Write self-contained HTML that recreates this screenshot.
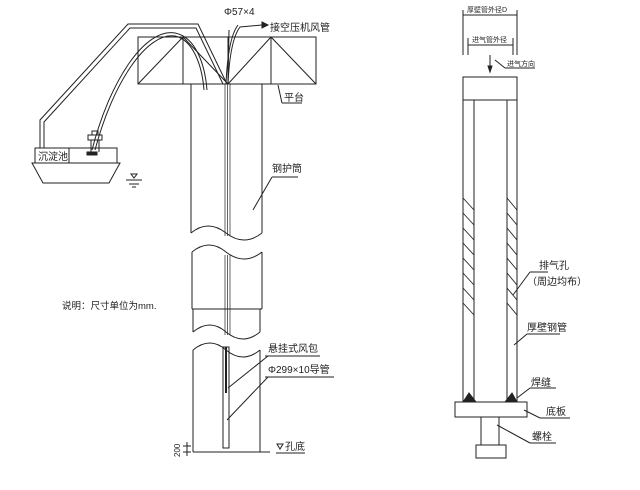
<!DOCTYPE html>
<html><head><meta charset="utf-8"><style>
html,body{margin:0;padding:0;background:#fff;}
svg{display:block;}
text{font-family:"Liberation Sans","Noto Sans CJK SC",sans-serif;fill:#222;}
</style></head><body>
<svg width="640" height="490" viewBox="0 0 640 490" xmlns="http://www.w3.org/2000/svg">
<g fill="none" stroke="#222" stroke-width="1">
<rect x="138" y="37" width="178" height="47"/>
<line x1="183" y1="37" x2="183" y2="84"/>
<line x1="228" y1="37" x2="228" y2="84"/>
<line x1="271" y1="37" x2="271" y2="84"/>
<line x1="138" y1="84" x2="183" y2="37"/>
<line x1="183" y1="37" x2="228" y2="84"/>
<line x1="228" y1="84" x2="271" y2="37"/>
<line x1="271" y1="37" x2="316" y2="84"/>
<line x1="191" y1="84" x2="191" y2="233"/>
<line x1="262" y1="84" x2="262" y2="233"/>
<path d="M191 233 Q208 219 226 233 Q244 247 262 233"/>
<path d="M192 252 Q209 238 226 252 Q244 266 262 252"/>
<line x1="192" y1="252" x2="192" y2="309"/>
<line x1="262" y1="252" x2="262" y2="309"/>
<line x1="192" y1="309" x2="262" y2="309"/>
<line x1="193" y1="309" x2="193" y2="332"/>
<line x1="260" y1="309" x2="260" y2="332"/>
<path d="M193 332 Q210 318 226 332 Q243 346 260 332"/>
<path d="M193 350 Q210 336 226 350 Q243 364 260 350"/>
<line x1="193" y1="350" x2="193" y2="452"/>
<line x1="260" y1="350" x2="260" y2="452"/>
<line x1="193" y1="452" x2="270" y2="452"/>
<line x1="225" y1="84" x2="225" y2="236" stroke-width="0.7"/>
<line x1="227.5" y1="84" x2="227.5" y2="236" stroke-width="0.7"/>
<line x1="230" y1="84" x2="230" y2="236" stroke-width="0.7"/>
<line x1="225" y1="255" x2="225" y2="335" stroke-width="0.7"/>
<line x1="227.5" y1="255" x2="227.5" y2="335" stroke-width="0.7"/>
<line x1="230" y1="255" x2="230" y2="335" stroke-width="0.7"/>
<rect x="223" y="347" width="6" height="101"/>
<line x1="226" y1="347" x2="226" y2="393" stroke-width="2"/>
<line x1="228" y1="388" x2="268" y2="356"/>
<line x1="265" y1="356" x2="320" y2="356"/>
<line x1="227" y1="420" x2="268" y2="377"/>
<line x1="265" y1="377" x2="334" y2="377"/>
<line x1="253" y1="210" x2="272" y2="177"/>
<line x1="272" y1="177" x2="298" y2="177"/>
<line x1="278" y1="85" x2="282" y2="103"/>
<line x1="282" y1="103" x2="302" y2="103"/>
<path d="M277 444 L283 444 L280 449 Z"/>
<line x1="276" y1="453" x2="305" y2="453"/>
<line x1="183" y1="446" x2="191" y2="446"/>
<line x1="183" y1="452" x2="191" y2="452"/>
<line x1="187" y1="442" x2="187" y2="456"/>
<path d="M228 84 Q230 40 240 27 L262 25"/>
<path d="M226 84 Q228 38 238 25"/>
<line x1="229" y1="30" x2="228" y2="84"/>
<path d="M262 22 L268 25 L262 28 Z" fill="#222"/>
<path d="M40 148 L40 120 L128 24 L198 24 L226 82"/>
<path d="M44 148 L44 122 L130 28 L196 28 L223 84"/>
<path d="M92 150 C110 80 145 28 175 33 C196 37 205 65 207 90"/>
<path d="M95 150 C113 82 147 32 175 36 C193 40 202 65 204 90"/>
<rect x="35" y="148" width="82" height="15"/>
<line x1="69" y1="148" x2="69" y2="163"/>
<path d="M32 163 L120 163 L109 183 L43 183 Z"/>
<rect x="88" y="135" width="14" height="5"/>
<rect x="92" y="131" width="6" height="4"/>
<line x1="91" y1="140" x2="91" y2="152"/>
<line x1="99" y1="140" x2="99" y2="152"/>
<rect x="87" y="152" width="10" height="3" fill="#222"/>
<line x1="126" y1="180" x2="142" y2="180"/>
<line x1="129" y1="184" x2="139" y2="184"/>
<line x1="132" y1="187" x2="136" y2="187"/>
<path d="M131 174 L137 174 L134 178 Z"/>
<rect x="463" y="77" width="54" height="325"/>
<rect x="463" y="77" width="54" height="23"/>
<line x1="474" y1="100" x2="474" y2="402"/>
<line x1="507" y1="100" x2="507" y2="402"/>
<rect x="455" y="402" width="72" height="15"/>
<rect x="481" y="417" width="18" height="28"/>
<rect x="476" y="445" width="30" height="13"/>
<path d="M463 402 L469 393 L476 402 Z" fill="#222"/>
<path d="M505 402 L512 393 L517 402 Z" fill="#222"/>
<g stroke-width="0.9">
<line x1="463" y1="198" x2="474" y2="210"/><line x1="463" y1="213" x2="474" y2="225"/>
<line x1="463" y1="228" x2="474" y2="240"/><line x1="463" y1="243" x2="474" y2="255"/>
<line x1="463" y1="258" x2="474" y2="270"/><line x1="463" y1="273" x2="474" y2="285"/>
<line x1="463" y1="288" x2="474" y2="300"/><line x1="463" y1="303" x2="474" y2="315"/>
<line x1="507" y1="198" x2="517" y2="210"/><line x1="507" y1="213" x2="517" y2="225"/>
<line x1="507" y1="228" x2="517" y2="240"/><line x1="507" y1="243" x2="517" y2="255"/>
<line x1="507" y1="258" x2="517" y2="270"/><line x1="507" y1="273" x2="517" y2="285"/>
<line x1="507" y1="288" x2="517" y2="300"/><line x1="507" y1="303" x2="517" y2="315"/>
</g>
<line x1="463" y1="10" x2="463" y2="55"/>
<line x1="517" y1="10" x2="517" y2="55"/>
<line x1="463" y1="15" x2="517" y2="15"/>
<line x1="468" y1="38" x2="468" y2="55"/>
<line x1="513" y1="38" x2="513" y2="55"/>
<line x1="468" y1="45" x2="513" y2="45"/>
<line x1="490" y1="55" x2="490" y2="70"/>
<path d="M488 66 L490 72 L492 66 Z" fill="#222"/>
<line x1="495" y1="60" x2="505" y2="68"/>
<line x1="505" y1="68" x2="535" y2="68"/>
<line x1="513" y1="295" x2="530" y2="272"/>
<line x1="530" y1="272" x2="548" y2="272"/>
<line x1="514" y1="345" x2="527" y2="334"/>
<line x1="527" y1="334" x2="560" y2="334"/>
<line x1="517" y1="398" x2="530" y2="388"/>
<line x1="530" y1="388" x2="556" y2="388"/>
<line x1="524" y1="410" x2="540" y2="418"/>
<line x1="540" y1="418" x2="570" y2="418"/>
<line x1="497" y1="425" x2="530" y2="443"/>
<line x1="530" y1="443" x2="556" y2="443"/>
</g>
<g font-size="10">
<text x="224" y="15">Φ57×4</text>
<text x="270" y="31">接空压机风管</text>
<text x="284" y="101">平台</text>
<text x="272" y="172">钢护筒</text>
<text x="268" y="352">悬挂式风包</text>
<text x="268" y="373">Φ299×10导管</text>
<text x="285" y="450">孔底</text>
<text x="38" y="160">沉淀池</text>
<text x="62" y="309" font-size="9.5">说明：尺寸单位为mm.</text>
<text x="180" y="457" font-size="8" transform="rotate(-90 180 457)">200</text>
<text x="539" y="269">排气孔</text>
<text x="527" y="285">（周边均布）</text>
<text x="527" y="331">厚壁钢管</text>
<text x="531" y="386">焊缝</text>
<text x="546" y="415">底板</text>
<text x="532" y="440">螺栓</text>
<text x="467" y="12" font-size="7">厚壁管外径D</text>
<text x="472" y="42" font-size="7">进气管外径</text>
<text x="507" y="66" font-size="7">进气方向</text>
</g>
</svg>
</body></html>
